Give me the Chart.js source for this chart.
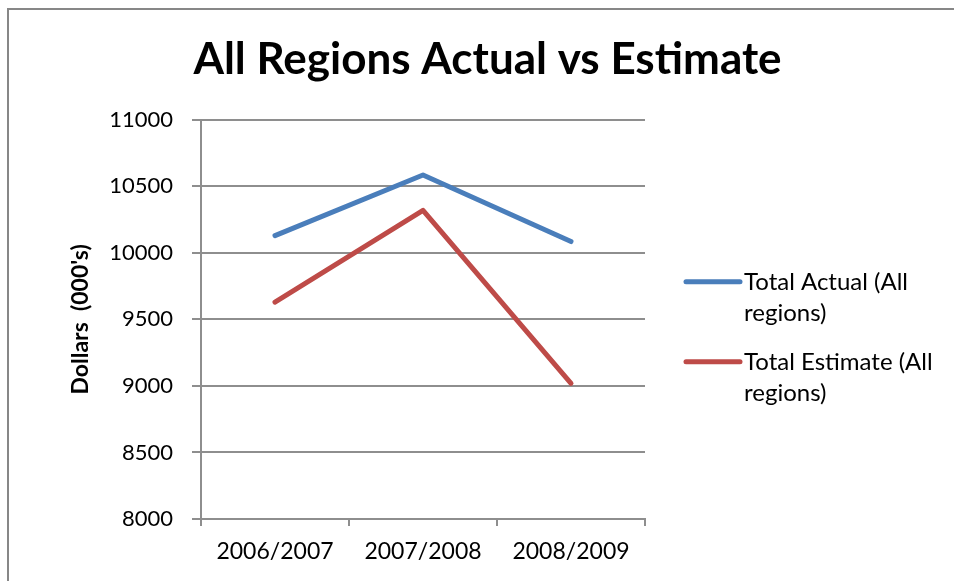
<!DOCTYPE html>
<html>
<head>
<meta charset="utf-8">
<script src="https://cdn.jsdelivr.net/npm/chart.js@4"></script>
<style>
  body { margin: 0; background: #fff; }
  .wrap { position: relative; width: 954px; height: 581px; }
  .frame { position: absolute; left: 7px; top: 8px; right: 0; bottom: 0;
           border-top: 2px solid #878787; border-left: 2px solid #878787; pointer-events: none; }
</style>
</head>
<body>
<div class="wrap">
  <canvas class="js-chart" width="954" height="581"></canvas>
  <div class="frame"></div>
</div>
<script>
const years = ["2006/2007", "2007/2008", "2008/2009"];
const actual = [10130, 10585, 10085];
const estimate = [9630, 10320, 9020];
const yTicks = [8000, 8500, 9000, 9500, 10000, 10500, 11000];
const seriesNames = ["Total Actual (All regions)", "Total Estimate (All regions)"];

const FONT = "Lato, 'Open Sans', sans-serif";
const GRID = "#8e8e8e";

// draws the legend to the right of the plot, labels wrapped on two lines
const sideLegend = {
  id: "sideLegend",
  afterDraw(chart) {
    const ctx = chart.ctx;
    const area = chart.chartArea;
    const x0 = area.right + 41;
    const lineH = 31.5;
    ctx.save();
    ctx.font = "24px " + FONT;
    ctx.textBaseline = "middle";
    ctx.fillStyle = "#000";
    chart.data.datasets.forEach((ds, i) => {
      const y = area.top + 162 + i * 80;
      ctx.strokeStyle = ds.borderColor;
      ctx.lineWidth = 5;
      ctx.lineCap = "round";
      ctx.beginPath();
      ctx.moveTo(x0, y);
      ctx.lineTo(x0 + 54, y);
      ctx.stroke();
      // simple word wrap
      const words = ds.label.split(" ");
      const lines = [];
      let cur = "";
      words.forEach((w) => {
        const t = cur ? cur + " " + w : w;
        if (ctx.measureText(t).width > 205 && cur) {
          lines.push(cur);
          cur = w;
        } else {
          cur = t;
        }
      });
      lines.push(cur);
      lines.forEach((l, j) => ctx.fillText(l, x0 + 58, y + j * lineH));
    });
    ctx.restore();
  },
};

const drawChart = function () {
  const el = document.querySelector(".js-chart");

  new Chart(el, {
    type: "line",
    data: {
      labels: years,
      datasets: [
        {
          label: seriesNames[0],
          data: actual,
          borderColor: "#4A7EBB",
          backgroundColor: "#4A7EBB",
          borderWidth: 5,
          pointRadius: 0,
          tension: 0,
          borderCapStyle: "round",
          borderJoinStyle: "round",
        },
        {
          label: seriesNames[1],
          data: estimate,
          borderColor: "#BE4B48",
          backgroundColor: "#BE4B48",
          borderWidth: 5,
          pointRadius: 0,
          tension: 0,
          borderCapStyle: "round",
          borderJoinStyle: "round",
        },
      ],
    },
    options: {
      responsive: false,
      animation: false,
      devicePixelRatio: 1,
      layout: { padding: { left: 21, right: 0, top: 0, bottom: 0 } },
      scales: {
        x: {
          type: "category",
          offset: true,
          grid: { offset: true, drawOnChartArea: false, tickLength: 7, color: GRID, lineWidth: 2 },
          border: { color: GRID, width: 2 },
          ticks: { color: "#000", font: { family: FONT, size: 23 }, padding: 12 },
          afterFit: (s) => { s.height = 62; },
        },
        y: {
          min: 8000,
          max: 11000,
          grid: { color: GRID, lineWidth: 2, tickLength: 9 },
          border: { color: GRID, width: 2 },
          afterBuildTicks: (s) => { s.ticks = yTicks.map((v) => ({ value: v })); },
          ticks: {
            color: "#000",
            font: { family: FONT, size: 22 },
            padding: 19,
            callback: (value) => String(value),
          },
          title: {
            display: true,
            text: "Dollars  (000's)",
            color: "#000",
            font: { family: FONT, size: 23, weight: "bold" },
            padding: { top: 46, bottom: 0 },
          },
          afterFit: (s) => { s.width = 180; },
        },
        legendSpace: {
          type: "linear",
          position: "right",
          display: true,
          ticks: { display: false },
          grid: { display: false },
          border: { display: false },
          afterFit: (s) => { s.width = 309; },
        },
      },
      plugins: {
        legend: { display: false },
        tooltip: { enabled: false },
        title: {
          display: true,
          text: "All Regions Actual vs Estimate",
          color: "#000",
          font: { family: FONT, size: 44, weight: "bold" },
          padding: { top: 33, bottom: 34 },
        },
      },
    },
    plugins: [sideLegend],
  });
};

drawChart();
</script>
</body>
</html>
